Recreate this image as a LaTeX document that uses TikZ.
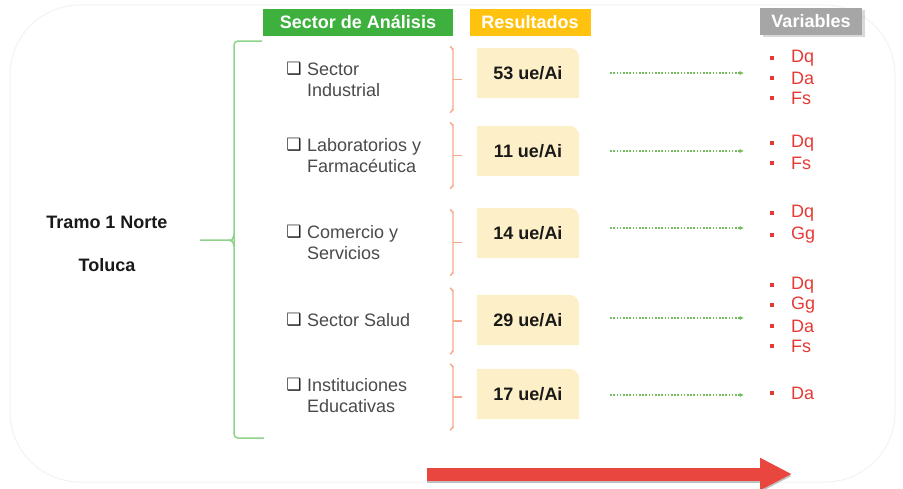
\documentclass[tikz,border=0pt]{standalone}
\usepackage{fontspec}
\setmainfont{Liberation Sans}
\newfontfamily\symfont{DejaVu Sans}
\usetikzlibrary{arrows.meta,shadows,backgrounds}

\definecolor{hdrgreen}{HTML}{3DB03D}
\definecolor{hdrgold}{HTML}{FFC20E}
\definecolor{hdrgray}{HTML}{A6A6A6}
\definecolor{resfill}{HTML}{FDF0C8}
\definecolor{braceorange}{HTML}{F5A98A}
\definecolor{bracegreen}{HTML}{8DD38A}
\definecolor{dotgreen}{HTML}{74BE60}
\definecolor{varred}{HTML}{E53935}
\definecolor{bigred}{HTML}{E8463E}
\definecolor{itemtext}{HTML}{4A4A4A}

\tikzset{
    hdr/.style={minimum height=27pt,inner sep=0pt,text=white,font=\fontsize{18}{20}\selectfont\bfseries},
    bold/.style={text=black!90,font=\fontsize{18}{21}\selectfont\bfseries},
    item/.style={text=itemtext,align=left,anchor=west,inner sep=0pt,font=\fontsize{18}{21}\selectfont},
    chk/.style={inner sep=0pt,text=black!85,font=\symfont\fontsize{17}{17}\selectfont},
    res/.style={minimum width=102pt,minimum height=50pt,inner sep=0pt,text=black!90,font=\fontsize{18}{21}\selectfont\bfseries},
    gbrace/.style={bracegreen,line width=1.5pt,rounded corners=4pt},
    obrace/.style={braceorange,line width=1.4pt},
    dotarrow/.style={dotgreen,dash pattern=on 1.6pt off 1.6pt,line width=1.4pt,-{Latex[length=4.5pt,width=4.5pt]}},
    bullet/.style={fill=varred,minimum size=4.5pt,inner sep=0pt},
    var/.style={text=varred,anchor=west,inner sep=0pt,font=\fontsize{18}{20}\selectfont}
}

\begin{document}
\begin{tikzpicture}[x=1pt,y=-1pt]
    \useasboundingbox (0,0) rectangle (903,488);
    \draw[gray!10,line width=1pt,rounded corners=70pt] (10,5) rectangle (895,482);

    \node[hdr,fill=hdrgreen,minimum width=190pt] (hsector) at (358,22) {Sector de Análisis};
    \node[hdr,fill=hdrgold,minimum width=121pt] (hres) at (530,22) {Resultados};
    \node[hdr,fill=hdrgray,minimum width=102pt,drop shadow={opacity=0.3}] (hvar) at (811,21) {Variables};

    \node[bold] (tramo) at (107,222) {Tramo 1 Norte};
    \node[bold] (toluca) at (107,265) {Toluca};

    \coordinate (gtop) at (262,41);
    \coordinate (gmid) at (200,240);
    \coordinate (gbot) at (264,438);
    \draw[gbrace] (gtop) -- (234,41) -- (234,438) -- (gbot);
    \draw[gbrace] (gmid) -- (228,240) to[out=0,in=-90] (234,234);
    \draw[gbrace] (228,240) to[out=0,in=90] (234,246);

    \foreach \i/\c/\a/\b in {1/79.5/Sector/Industrial,2/155.5/Laboratorios y/Farmacéutica,
                             3/242.5/Comercio y/Servicios,5/395.5/Instituciones/Educativas}{
        \node[chk] (chk\i) at (294,\c-10.5) {❑};
        \node[item] (sec\i) at (307,\c) {\a\\\b};
    }
    \node[chk] (chk4) at (294,320) {❑};
    \node[item] (sec4) at (307,320) {Sector Salud};

    \foreach \i/\c in {1/79.5,2/155.5,3/242.5,4/321,5/397}{
        \draw[obrace] (450,\c-33) to[out=0,in=-90] (453,\c-30) -- (453,\c+30) to[out=90,in=0] (450,\c+33);
        \draw[obrace] (453,\c) -- (462,\c);
    }

    \foreach \i/\r/\n in {1/73/53,2/151/11,3/233/14,4/320/29,5/394/17}{
        \node[res] (res\i) at (528,\r) {\n{} ue/Ai};
        \begin{scope}[on background layer]
            \fill[resfill] (res\i.south west) -- (res\i.north west) -- ([xshift=-10pt]res\i.north east)
                to[out=0,in=90] ([yshift=-10pt]res\i.north east) -- (res\i.south east) -- cycle;
        \end{scope}
    }

    \foreach \i/\r in {1/73,2/151,3/228,4/318,5/395}{
        \coordinate (dv\i) at (744,\r);
        \draw[dotarrow] ([xshift=31pt]res\i.east |- dv\i) -- (dv\i);
    }

    \foreach \y/\v in {58/Dq,78/Da,98/Fs,143/Dq,163/Fs,213/Dq,235/Gg,
                       285/Dq,305/Gg,326/Da,346/Fs,393/Da}{
        \node[bullet] at (772,\y) {};
        \node[var] at (791,\y) {\v};
    }

    \coordinate (rl) at (427,474);
    \coordinate (rr) at (792,474);
    \draw[black!25,line width=13pt,-{Triangle[length=32pt,width=30pt]}] ([yshift=-2pt]rl) -- ([yshift=-2pt]rr);
    \draw[bigred,line width=13pt,-{Triangle[length=32pt,width=30pt]}] (rl) -- (rr);
\end{tikzpicture}
\end{document}
